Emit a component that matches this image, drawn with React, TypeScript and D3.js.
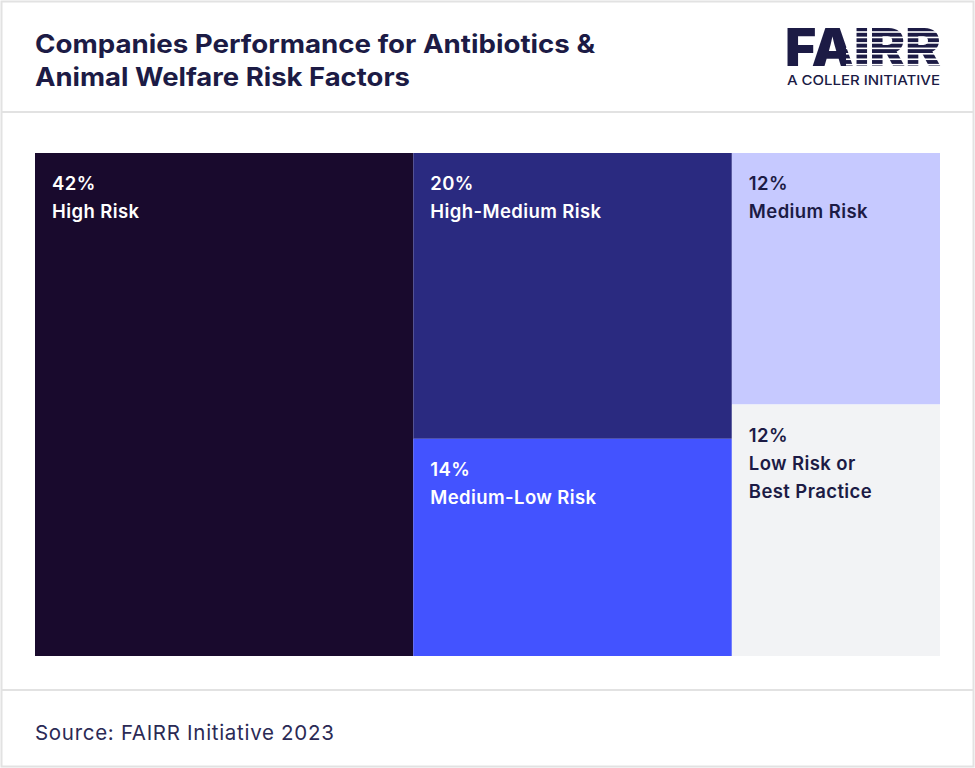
import React from "react";
import * as d3 from "d3";

const categories = ["High Risk", "High-Medium Risk", "Medium-Low Risk", "Medium Risk", "Low Risk or Best Practice"];
const labels = ["42%", "20%", "14%", "12%", "12%"];
// area values (rectangle areas)
const areaValues = [41.8, 20.0, 15.2, 11.5, 11.5];
const groups = [0, 1, 1, 2, 2];
const labelLines = [["High Risk"], ["High-Medium Risk"], ["Medium-Low Risk"], ["Medium Risk"], ["Low Risk or", "Best Practice"]];
const fills = ["#190a2d", "#2a2a80", "#4353ff", "#c6c9ff", "#f2f3f5"];
const textFills = ["#ffffff", "#ffffff", "#ffffff", "#1c1b45", "#1c1b45"];

const W = 975, H = 768;
const X0 = 35, Y0 = 153, TW = 905, TH = 503;

type Leaf = { name: string; value: number; idx: number };

export default function App() {
  const groupNodes = d3.groups(
    categories.map((c, i) => ({ name: c, value: areaValues[i], idx: i }) as Leaf),
    (d) => groups[d.idx]
  ).map(([g, items]) => ({ name: "g" + g, children: items }));
  const root = d3
    .hierarchy<any>({ name: "root", children: groupNodes })
    .sum((d: any) => d.value || 0);
  d3.treemap<any>().tile(d3.treemapSliceDice).size([TW, TH]).paddingInner(0)(root);
  const leaves = root.leaves() as any[];

  const font = "Inter, 'Noto Sans', sans-serif";
  const navy = "#1c1b45";

  const stripeYs = d3.range(0, 7).map((i) => 28 + 3.2 + i * 5.45);

  return (
    <svg width={W} height={H} style={{ position: "absolute", left: 0, top: 0 }} fontFamily={font}>
      <rect x={0} y={0} width={W} height={H} fill="#ffffff" />
      <rect x={1.5} y={1.5} width={W - 3} height={H - 3} fill="#ffffff" stroke="#e2e2e2" strokeWidth={2} />
      <line x1={2} x2={W - 2} y1={112} y2={112} stroke="#e2e2e2" strokeWidth={2} />
      <line x1={2} x2={W - 2} y1={690} y2={690} stroke="#e2e2e2" strokeWidth={2} />

      <text x={35} y={53} fontSize={25.5} fontWeight={700} fill={navy} textLength={560} lengthAdjust="spacingAndGlyphs">Companies Performance for Antibiotics &amp;</text>
      <text x={35} y={86} fontSize={25.5} fontWeight={700} fill={navy} textLength={375} lengthAdjust="spacingAndGlyphs">Animal Welfare Risk Factors</text>

      {/* logo */}
      <defs>
        <clipPath id="irrclip">
          <rect x={846} y={20} width={100} height={55} />
        </clipPath>
      </defs>
      <text x={785} y={66} fontSize={52} fontWeight={900} fill={navy} textLength={156} lengthAdjust="spacingAndGlyphs">FAIRR</text>
      <g clipPath="url(#irrclip)">
        {stripeYs.map((y, i) => (
          <rect key={i} x={846} y={y} width={100} height={1.6} fill="#ffffff" />
        ))}
      </g>
      <text x={787} y={85} fontSize={13.5} fontWeight={500} fill={navy} textLength={153} lengthAdjust="spacingAndGlyphs">A COLLER INITIATIVE</text>

      <g transform={`translate(${X0},${Y0})`}>
        {leaves.map((l) => {
          const i = l.data.idx;
          return (
            <rect key={i} x={l.x0} y={l.y0} width={l.x1 - l.x0} height={l.y1 - l.y0} fill={fills[i]} />
          );
        })}
        {leaves.map((l) => {
          const i = l.data.idx;
          const lines = [labels[i], ...labelLines[i]];
          return (
            <g key={"t" + i}>
              {lines.map((s, k) => (
                <text key={k} x={l.x0 + 17} y={l.y0 + 37 + k * 28} fontSize={18.5} fontWeight={600} letterSpacing={0.4} fill={textFills[i]}>
                  {s}
                </text>
              ))}
            </g>
          );
        })}
      </g>

      <text x={35} y={740} fontSize={20.5} fontWeight={400} letterSpacing={0.7} fill="#2b2a55">Source: FAIRR Initiative 2023</text>
    </svg>
  );
}
